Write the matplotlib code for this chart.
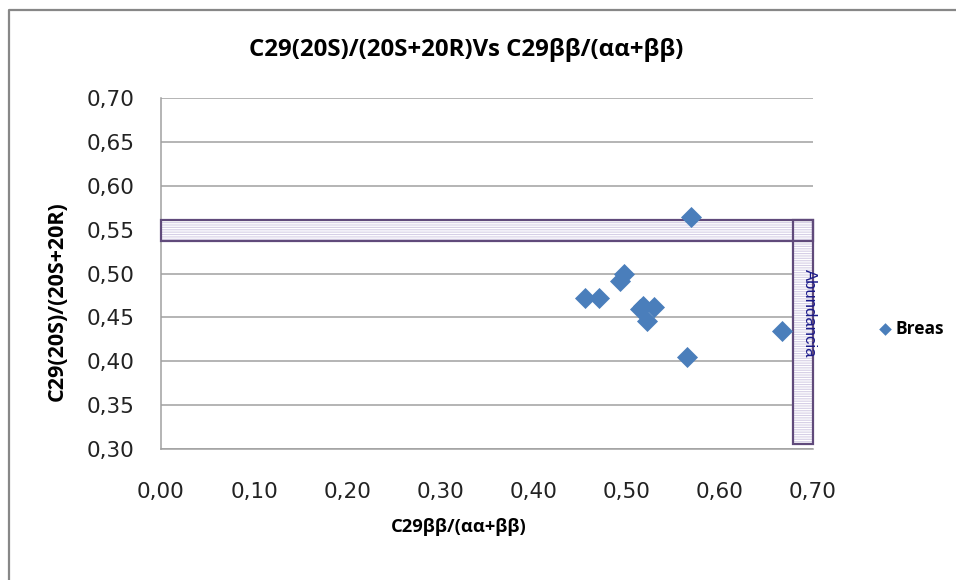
# plot.py
# scatter of C29(20S)/(20S+20R) against C29bb/(aa+bb) for the Breas samples
import matplotlib
matplotlib.use('Agg')
import matplotlib.pyplot as plt
from matplotlib.patches import Rectangle
from matplotlib.lines import Line2D
from matplotlib.ticker import FuncFormatter, MultipleLocator

# values
breas_x = [0.455, 0.470, 0.493, 0.497, 0.514, 0.518, 0.522, 0.529, 0.565, 0.569, 0.667]
breas_y = [0.472, 0.472, 0.492, 0.499, 0.460, 0.463, 0.446, 0.462, 0.405, 0.564, 0.434]

# the two "Abundancia" boxes (x0, x1, y0, y1)
band_h = (0.0, 0.70, 0.537, 0.561)
band_v = (0.679, 0.70, 0.306, 0.561)

title = 'C29(20S)/(20S+20R)Vs C29ββ/(αα+ββ)'
xlabel = 'C29ββ/(αα+ββ)'
ylabel = 'C29(20S)/(20S+20R)'

blue = '#4a7ebb'
purple = '#604a7b'
grid_grey = '#a0a0a0'

plt.rcParams['hatch.linewidth'] = 0.8

fig = plt.figure(figsize=(9.56, 5.8), dpi=100)
ax = fig.add_axes([161/956, 1 - 449/580, (813-161)/956, (449-98)/580])

# outer chart frame (left and top edges only, the rest is cut off)
fig.add_artist(Line2D([9/956, 9/956, 1], [0, 1 - 10/580, 1 - 10/580],
                      transform=fig.transFigure, color='#878787', lw=1.6))

ax.set_xlim(0, 0.70)
ax.set_ylim(0.30, 0.70)
ax.xaxis.set_major_locator(MultipleLocator(0.10))
ax.yaxis.set_major_locator(MultipleLocator(0.05))
fmt = FuncFormatter(lambda v, p: f'{v:.2f}'.replace('.', ','))
ax.xaxis.set_major_formatter(fmt)
ax.yaxis.set_major_formatter(fmt)
ax.tick_params(length=0, labelsize=15.5, colors='#222222')
ax.tick_params(axis='y', pad=19)
ax.tick_params(axis='x', pad=24)

ax.grid(axis='y', color=grid_grey, lw=1.1)
ax.set_axisbelow(True)
for side in ['top', 'right']:
    ax.spines[side].set_visible(False)
for side in ['left', 'bottom']:
    ax.spines[side].set_color(grid_grey)
    ax.spines[side].set_linewidth(1.1)

# hatched boxes: hatch drawn in lavender, border drawn in purple
for x0, x1, y0, y1 in [band_h, band_v]:
    ax.add_patch(Rectangle((x0, y0), x1 - x0, y1 - y0, facecolor='white',
                           edgecolor='#d6cfe6', hatch='-------', lw=0, zorder=2))
    ax.add_patch(Rectangle((x0, y0), x1 - x0, y1 - y0, fill=False,
                           edgecolor=purple, lw=1.6, zorder=3, clip_on=False))

ax.text(0.6965, 0.505, 'Abundancia', rotation=-90, ha='center', va='top',
        fontsize=12, family='Liberation Sans', color='#1a1a8a', zorder=4)

ax.scatter(breas_x, breas_y, marker='D', s=115, color=blue, lw=0,
           zorder=5, label='Breas', clip_on=False)

bold = ['Open Sans', 'DejaVu Sans']
fig.text(466/956, 1 - 50/580, title, ha='center', va='center',
         fontsize=17.3, fontweight='bold', family=bold)
fig.text(459/956, 1 - 527/580, xlabel, ha='center', va='center',
         fontsize=13.2, fontweight='bold', family=bold)
fig.text(57/956, 1 - 301/580, ylabel, ha='center', va='center', rotation=90,
         fontsize=15.5, fontweight='bold', family=bold)

leg = ax.legend(loc='center left', bbox_to_anchor=(868/956, 1 - 329/580),
                bbox_transform=fig.transFigure, frameon=False,
                handletextpad=0.0, borderaxespad=0, markerscale=0.6,
                handlelength=1.2,
                prop={'family': bold, 'weight': 'bold', 'size': 12.5})

fig.savefig('out.png', dpi=100)
